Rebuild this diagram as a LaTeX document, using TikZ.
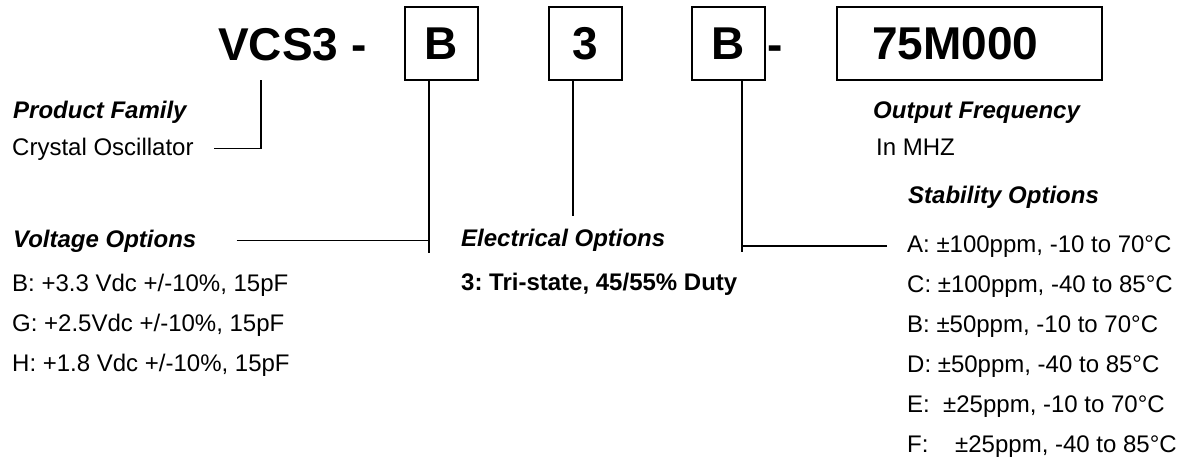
\documentclass[tikz,border=0pt]{standalone}
\usepackage{fontspec}
\setmainfont{Liberation Sans}
\usetikzlibrary{positioning}
\frenchspacing

\begin{document}
\begin{tikzpicture}[x=1pt,y=-1pt,
  big/.style={anchor=base west, inner sep=0pt, font=\fontsize{46}{50}\selectfont\bfseries},
  pbox/.style={draw, line width=1.5pt, minimum width=73pt, minimum height=73pt, inner sep=0pt, font=\fontsize{46}{50}\selectfont\bfseries},
  hd/.style={anchor=base west, inner sep=0pt, font=\fontsize{24}{28}\selectfont\bfseries\itshape},
  txt/.style={anchor=base west, inner sep=0pt, font=\fontsize{24}{28}\selectfont},
  ln/.style={line width=1.3pt}]
\useasboundingbox (0,0) rectangle (1178,464);
% part number
\node [big] (fam) at (218,60) {VCS3 -};
\node [pbox] (boxB) at (441.5,43.5) {B};
\node [pbox] (box3) at (585.5,43.5) {3};
\node [pbox] (boxS) at (728.5,43.5) {B};
\node [big] (dash) at (767,60) {-};
\node [pbox, minimum width=265pt, text width=195pt, inner xsep=35pt, align=left] (boxF) at (969.5,43.5) {75M000};
% labels
\node [hd] (famhd) at (13,118) {Product Family};
\node [txt] (osc) at (12,155) {Crystal Oscillator};
\node [hd] (frqhd) at (873,118) {Output Frequency};
\node [txt] (mhz) at (876,155) {In MHZ};
\node [hd] (volt) at (13,247) {Voltage Options};
\node [txt] (voltB) at (12,291) {B: +3.3 Vdc +/-10\%, 15pF};
\node [txt] (voltG) at (12,331) {G: +2.5Vdc +/-10\%, 15pF};
\node [txt] (voltH) at (12,371) {H: +1.8 Vdc +/-10\%, 15pF};
\node [hd] (elec) at (461,246) {Electrical Options};
\node [txt, font=\fontsize{24}{28}\selectfont\bfseries] (elec3) at (461,290) {3: Tri-state, 45/55\% Duty};
\node [hd] (stab) at (908,203) {Stability Options};
\node [txt] (stabA) at (907,252) {A: ±100ppm, -10 to 70°C};
\node [txt] (stabC) at (907,292) {C: ±100ppm, -40 to 85°C};
\node [txt] (stabB) at (907,332) {B: ±50ppm, -10 to 70°C};
\node [txt] (stabD) at (907,372) {D: ±50ppm, -40 to 85°C};
\node [txt] (stabE) at (907,412) {E:\ \ ±25ppm, -10 to 70°C};
\node [txt] (stabF) at (907,452) {F:\ \ \ \ ±25ppm, -40 to 85°C};
% connectors
\coordinate (lV) at (261,80);
\coordinate (lB) at ([xshift=-12.5pt]boxB.south);
\coordinate (lS) at ([xshift=13.5pt]boxS.south);
\draw [ln] (lV) |- ([xshift=20pt]osc.east);
\draw [ln] (lB) -- ++(0,172);
\draw [ln] ([xshift=40pt]volt.east) -- (volt.east -| lB);
\draw [ln] ([xshift=-12.5pt]box3.south) -- ++(0,135);
\draw [ln] (lS) -- ++(0,171);
\draw [ln] ([xshift=-20pt]stabA.west) -- (stabA.west -| lS);
\end{tikzpicture}
\end{document}
